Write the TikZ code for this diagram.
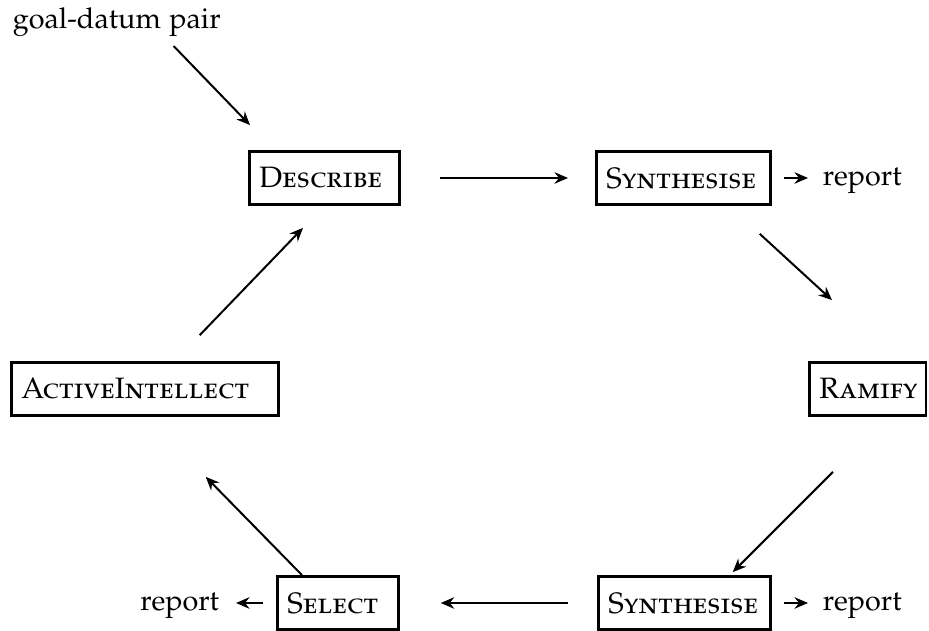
\documentclass[tikz,border=0pt]{standalone}
\usepackage[T1]{fontenc}
\usepackage[sc]{mathpazo}
\usetikzlibrary{arrows.meta}

\tikzset{every picture/.style={line width=0.75pt}}
\tikzset{
  stagebox/.style={draw, line width=1.1pt, inner xsep=4pt, inner ysep=0pt, minimum height=21.2pt, align=left, anchor=west, font=\fontsize{11.8}{15}\selectfont\scshape},
  plaintext/.style={inner sep=0pt, font=\fontsize{11.5}{14}\selectfont},
  arr/.style={-{Stealth[length=5.4pt,width=4.6pt,inset=1.8pt]}, line width=0.8pt}
}

\begin{document}
\begin{tikzpicture}[x=0.4pt,y=-0.4pt]
\useasboundingbox (0,0) rectangle (929,631);

% Stage boxes
\node[stagebox, text width=52pt] (describe) at (248,178) {Describe};
\node[stagebox, text width=61.6pt] (synthA) at (595,178) {Synthesise};
\node[stagebox, text width=38.6pt] (ramify) at (808,389) {Ramify};
\node[stagebox, text width=98.8pt] (active) at (10,389) {ActiveIntellect};
\node[stagebox, text width=60.8pt] (synthB) at (597,603) {Synthesise};
\node[stagebox, text width=40.4pt] (select) at (276,603) {Select};

% Text Node
\node[plaintext, anchor=base west] (goal) at (12,29) {goal-datum pair};
% Text Node
\node[plaintext, anchor=base west] (reportA) at (822,186) {report};
% Text Node
\node[plaintext, anchor=base west] (reportB) at (822,611) {report};
% Text Node
\node[plaintext, anchor=base east] (reportC) at (220,611) {report};

% Cycle
\draw[arr] ([shift={(-48,8)}]goal.south east) -- ([shift={(2,-25)}]describe.north west);
\draw[arr] ([shift={(39,0)}]describe.east) -- ([shift={(-27,0)}]synthA.west);
\draw[arr] ([shift={(-12,28)}]synthA.south east) -- ([shift={(24,-61)}]ramify.north west);
\draw[arr] ([shift={(25,55)}]ramify.south west) -- ([shift={(-39,-3)}]synthB.north east);
\draw[arr] ([shift={(-29,0)}]synthB.west) -- ([shift={(41,0)}]select.east);
\draw[arr] ([shift={(26,0)}]select.north west) -- ([shift={(-74,60)}]active.south east);
\draw[arr] ([shift={(-80,-26)}]active.north east) -- ([shift={(55,22)}]describe.south west);

% Reports
\draw[arr, shorten <=4.8pt, shorten >=5.6pt] (synthA.east) -- (synthA.east -| reportA.west);
\draw[arr, shorten <=4.8pt, shorten >=5.6pt] (synthB.east) -- (synthB.east -| reportB.west);
\draw[arr, shorten <=5.2pt, shorten >=6.4pt] (select.west) -- (select.west -| reportC.east);

\end{tikzpicture}
\end{document}
